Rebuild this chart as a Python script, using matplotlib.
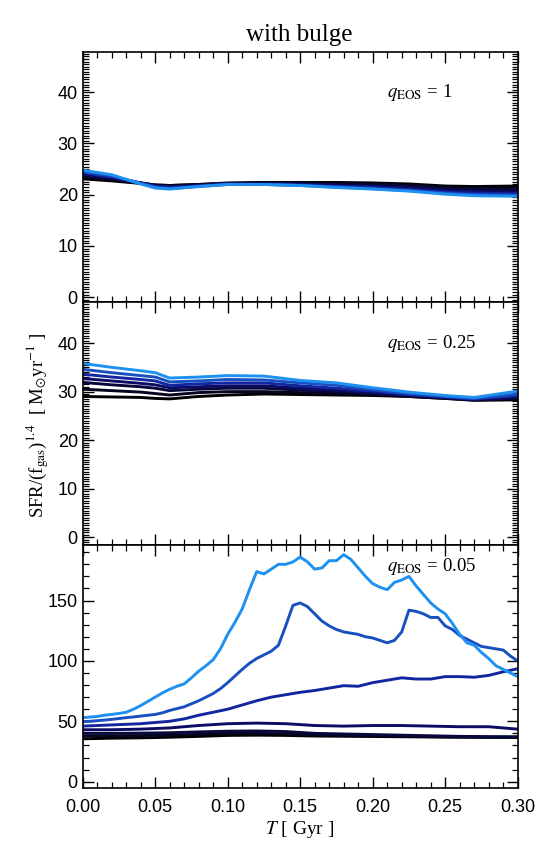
import numpy as np
import matplotlib
matplotlib.use("Agg")
import matplotlib.pyplot as plt
from matplotlib.ticker import MultipleLocator

# ================================================================
# DATA
# ================================================================

# line colours, from lowest SFR (black) to highest (light blue)
colors = ["#000000", "#05051e", "#08083c", "#0c0c64",
          "#1226a0", "#1850c0", "#1e90f0"]

# q_EOS = 1 and q_EOS = 0.25 share one time grid
t_smooth = [0.0, 0.02, 0.04, 0.05, 0.06, 0.08, 0.10, 0.125,
            0.15, 0.175, 0.20, 0.225, 0.25, 0.27, 0.30]

q1_lines = [
    [23.1, 22.7, 22.2, 21.9, 21.8, 22.0, 22.3, 22.4, 22.4, 22.4, 22.3, 22.1, 21.7, 21.6, 21.7],
    [23.4, 22.9, 22.3, 21.9, 21.8, 22.0, 22.2, 22.3, 22.3, 22.2, 22.1, 21.9, 21.5, 21.3, 21.3],
    [23.8, 23.1, 22.3, 21.8, 21.6, 21.9, 22.2, 22.2, 22.2, 22.0, 21.9, 21.6, 21.2, 21.0, 20.9],
    [24.0, 23.3, 22.3, 21.7, 21.5, 21.8, 22.1, 22.1, 22.0, 21.8, 21.6, 21.3, 20.8, 20.6, 20.5],
    [24.3, 23.5, 22.3, 21.6, 21.4, 21.7, 22.1, 22.0, 21.9, 21.6, 21.4, 21.0, 20.5, 20.3, 20.2],
    [24.5, 23.7, 22.2, 21.5, 21.2, 21.6, 22.0, 22.0, 21.8, 21.5, 21.2, 20.8, 20.3, 20.0, 19.9],
    [24.8, 23.9, 22.1, 21.3, 21.1, 21.6, 22.0, 22.0, 21.8, 21.4, 21.1, 20.7, 20.1, 19.8, 19.7],
]

q025_lines = [
    [29.0, 28.9, 28.8, 28.6, 28.5, 29.0, 29.3, 29.5, 29.4, 29.3, 29.2, 29.0, 28.6, 28.2, 28.3],
    [30.5, 30.2, 29.9, 29.6, 29.3, 29.8, 30.0, 30.0, 29.8, 29.6, 29.4, 29.0, 28.6, 28.3, 28.5],
    [31.9, 31.4, 31.0, 30.7, 30.2, 30.5, 30.7, 30.7, 30.3, 30.0, 29.6, 29.1, 28.7, 28.3, 28.7],
    [32.7, 32.2, 31.7, 31.4, 30.8, 31.0, 31.2, 31.2, 30.7, 30.3, 29.8, 29.3, 28.8, 28.4, 28.9],
    [33.6, 33.0, 32.5, 32.2, 31.3, 31.6, 31.8, 31.8, 31.2, 30.7, 30.1, 29.4, 28.9, 28.5, 29.2],
    [34.6, 33.9, 33.3, 33.0, 32.0, 32.2, 32.5, 32.4, 31.8, 31.3, 30.4, 29.6, 29.0, 28.6, 29.5],
    [35.8, 35.0, 34.3, 33.9, 32.8, 33.0, 33.3, 33.2, 32.3, 31.8, 30.8, 29.9, 29.2, 28.8, 30.1],
]

# q_EOS = 0.05: flat lines on a coarse grid, bursty ones on finer grids
t_coarse = [0.0, 0.02, 0.04, 0.06, 0.08, 0.10, 0.12, 0.14,
            0.16, 0.18, 0.20, 0.22, 0.24, 0.26, 0.28, 0.30]
t_mid = [0.00, 0.01, 0.02, 0.03, 0.04, 0.05, 0.06, 0.07, 0.08, 0.09,
         0.10, 0.11, 0.12, 0.13, 0.14, 0.15, 0.16, 0.17, 0.18, 0.19,
         0.20, 0.21, 0.22, 0.23, 0.24, 0.25, 0.26, 0.27, 0.28, 0.29, 0.30]
t_fine = [0.000, 0.005, 0.010, 0.015, 0.020, 0.025, 0.030, 0.035, 0.040, 0.045,
          0.050, 0.055, 0.060, 0.065, 0.070, 0.075, 0.080, 0.085, 0.090, 0.095,
          0.100, 0.105, 0.110, 0.115, 0.120, 0.125, 0.130, 0.135, 0.140, 0.145,
          0.150, 0.155, 0.160, 0.165, 0.170, 0.175, 0.180, 0.185, 0.190, 0.195,
          0.200, 0.205, 0.210, 0.215, 0.220, 0.225, 0.230, 0.235, 0.240, 0.245,
          0.250, 0.255, 0.260, 0.265, 0.270, 0.275, 0.280, 0.285, 0.290, 0.295,
          0.300]

q005_l0 = [35.5, 36.0, 36.3, 36.8, 37.5, 38.3, 38.5, 38.3, 37.8, 37.6, 37.4, 37.2, 37.0, 36.8, 36.7, 36.6]
q005_l1 = [37.8, 38.0, 38.2, 38.5, 39.2, 40.0, 40.0, 39.5, 38.7, 38.2, 38.0, 37.6, 37.3, 37.0, 36.8, 36.8]
q005_l2 = [40.0, 40.0, 40.2, 40.5, 41.2, 41.8, 42.0, 41.5, 40.0, 39.5, 39.0, 38.5, 38.0, 37.5, 37.3, 37.2]
q005_l3 = [43.0, 43.0, 43.5, 44.5, 46.5, 48.0, 48.5, 48.0, 46.5, 46.0, 46.5, 46.5, 46.0, 45.5, 45.5, 43.5]
q005_l4 = [46.0, 46.5, 47.0, 47.5, 48.0, 49.0, 50.0, 52.0, 55.0, 57.5,
           60.0, 63.5, 67.0, 70.0, 72.0, 74.0, 75.5, 77.5, 79.5, 79.0,
           82.0, 84.0, 86.0, 85.0, 85.0, 87.0, 87.0, 86.5, 88.0, 91.0, 93.5]
q005_l5 = [49.7, 50.0, 50.5, 51.0, 51.6, 52.3, 53.0, 53.6, 54.3, 55.0,
           55.7, 57.0, 59.0, 60.5, 62.0, 64.5, 67.0, 70.0, 73.0, 77.0,
           82.0, 87.5, 93.0, 98.0, 102.0, 105.0, 108.0, 113.0, 129.0, 146.0,
           148.0, 145.0, 139.0, 133.0, 129.0, 126.0, 124.0, 123.0, 122.0, 120.0,
           119.0, 117.0, 115.0, 117.0, 124.0, 142.0, 141.0, 139.0, 136.0, 136.0,
           129.0, 126.0, 121.0, 118.0, 115.0, 112.0, 111.0, 110.0, 109.0, 104.0,
           100.0]
q005_l6 = [53.0, 53.5, 54.0, 55.0, 55.7, 56.5, 57.5, 60.0, 63.0, 66.5,
           70.0, 73.5, 76.5, 79.0, 81.0, 86.0, 91.5, 96.0, 101.0, 110.0,
           122.0, 132.0, 143.0, 159.0, 174.0, 172.0, 176.0, 180.0, 180.0, 182.0,
           186.0, 182.0, 176.0, 177.0, 183.0, 183.0, 188.0, 184.0, 177.0, 170.0,
           164.0, 161.0, 159.0, 165.0, 167.0, 170.0, 162.0, 155.0, 148.0, 143.0,
           139.0, 131.0, 122.0, 115.0, 113.0, 107.0, 102.0, 96.0, 93.0, 90.0,
           87.0]

q_labels = [r"$q_{\rm EOS}$ = 1", r"$q_{\rm EOS}$ = 0.25", r"$q_{\rm EOS}$ = 0.05"]
x_ticks = [0.00, 0.05, 0.10, 0.15, 0.20, 0.25, 0.30]


# ================================================================
# PLOT
# ================================================================

plt.rcParams.update({
    "font.family": ["Liberation Sans", "DejaVu Sans"],
    "mathtext.fontset": "stix",
    "xtick.direction": "in",
    "ytick.direction": "in",
    "xtick.top": True,
    "ytick.right": True,
    "axes.linewidth": 1.2,
})
SERIF = ["Liberation Serif", "DejaVu Serif"]

fig = plt.figure(figsize=(5.5, 8.66), dpi=100)
W, H = 550.0, 866.0
left, right = 82.7, 517.7
rows = [(52.3, 302.3), (302.3, 545.0), (545.0, 787.7)]
ylims = [(-1.0, 47.8), (-1.6, 48.4), (-5.0, 196.0)]

axes = []
for top, bot in rows:
    ax = fig.add_axes([left / W, 1 - bot / H, (right - left) / W, (bot - top) / H])
    axes.append(ax)

panels = [
    [(t_smooth, y) for y in q1_lines],
    [(t_smooth, y) for y in q025_lines],
    [(t_coarse, q005_l0), (t_coarse, q005_l1), (t_coarse, q005_l2),
     (t_coarse, q005_l3), (t_mid, q005_l4), (t_fine, q005_l5), (t_fine, q005_l6)],
]
label_y = [40.0, 40.0, 178.0]

for i, ax in enumerate(axes):
    for (t, y), c in zip(panels[i], colors):
        ax.plot(t, y, color=c, linewidth=2.1, solid_joinstyle="round")
    ax.set_xlim(0, 0.3)
    ax.set_ylim(*ylims[i])
    ax.xaxis.set_major_locator(MultipleLocator(0.05))
    ax.xaxis.set_minor_locator(MultipleLocator(0.01))
    if i < 2:
        ax.yaxis.set_major_locator(MultipleLocator(10))
        ax.yaxis.set_minor_locator(MultipleLocator(0.5))
    else:
        ax.yaxis.set_major_locator(MultipleLocator(50))
        ax.yaxis.set_minor_locator(MultipleLocator(10))
    ax.tick_params(which="major", length=8, width=1.0, labelsize=13)
    ax.tick_params(axis="x", which="major", pad=8)
    ax.tick_params(which="minor", length=4, width=0.9)
    if i < 2:
        ax.tick_params(labelbottom=False)
    else:
        ax.set_xticks(x_ticks)
        ax.set_xticklabels([f"{v:.2f}" for v in x_ticks])
    ax.text(0.210, label_y[i], q_labels[i], family=SERIF, fontsize=13.5,
            va="center", ha="left")

fig.text(0.545, 1 - 35 / H, "with bulge", family=SERIF, fontsize=18,
         ha="center", va="center")
fig.text(0.545, 1 - 829 / H, r"$T$ [ Gyr ]", family=SERIF, fontsize=14,
         ha="center", va="center")
fig.text(38 / W, 1 - 425 / H,
         r"SFR/(f$_{\rm gas}$)$^{1.4}$  [ M$_{\odot}$yr$^{-1}$ ]",
         family=SERIF, fontsize=13.5, rotation=90, ha="center", va="center")

fig.savefig("out.png", dpi=100)
